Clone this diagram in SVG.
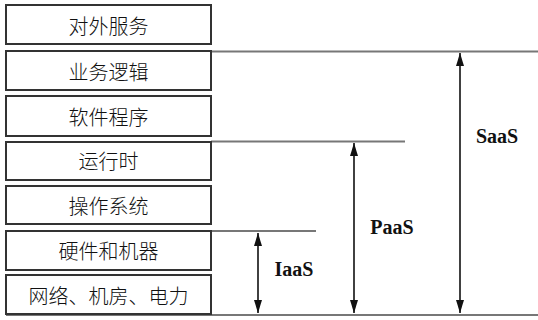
<svg xmlns="http://www.w3.org/2000/svg" width="538" height="320" viewBox="0 0 538 320">
<style>
.box{fill:#fff;stroke:#333;stroke-width:2}
.lbl{font-family:"Noto Sans CJK SC","Noto Sans CJK JP",sans-serif;font-size:20px;font-weight:300;fill:#111;text-anchor:middle;dominant-baseline:central}
.lvl{stroke:#777;stroke-width:2;fill:none}
.arr{stroke:#111;stroke-width:1.6;fill:none;marker-start:url(#ah);marker-end:url(#ah)}
.tag{font-family:"Liberation Serif",serif;font-weight:bold;font-size:20px;fill:#111;text-anchor:middle}
</style>
<defs>
<marker id="ah" viewBox="0 0 10 10" refX="10" refY="5" markerWidth="13" markerHeight="8" markerUnits="userSpaceOnUse" orient="auto-start-reverse" preserveAspectRatio="none"><path d="M0,0L10,5L0,10Z" fill="#111"/></marker>
</defs>
<rect width="538" height="320" fill="#fff"/>
<g id="connectors">
<line class="lvl" x1="211" y1="51.5" x2="538" y2="51.5"/>
<line class="lvl" x1="211" y1="141.5" x2="405" y2="141.5"/>
<line class="lvl" x1="211" y1="231" x2="316" y2="231"/>
<line class="lvl" x1="6" y1="315" x2="538" y2="315"/>
<line class="arr" x1="258" y1="233" x2="258" y2="313"/>
<line class="arr" x1="354" y1="143" x2="354" y2="313"/>
<line class="arr" x1="460" y1="53" x2="460" y2="313"/>
</g>
<g id="n1"><rect class="box" x="6" y="5" width="205" height="39"/><text class="lbl" x="108.5" y="25">对外服务</text></g>
<g id="n2"><rect class="box" x="6" y="51" width="205" height="39"/><text class="lbl" x="108.5" y="71">业务逻辑</text></g>
<g id="n3"><rect class="box" x="6" y="96" width="205" height="40"/><text class="lbl" x="108.5" y="116">软件程序</text></g>
<g id="n4"><rect class="box" x="6" y="142" width="205" height="38"/><text class="lbl" x="108.5" y="160">运行时</text></g>
<g id="n5"><rect class="box" x="6" y="186" width="205" height="38"/><text class="lbl" x="108.5" y="205">操作系统</text></g>
<g id="n6"><rect class="box" x="6" y="231" width="205" height="39"/><text class="lbl" x="108.5" y="250">硬件和机器</text></g>
<g id="n7"><rect class="box" x="6" y="275" width="205" height="39"/><text class="lbl" x="108.5" y="295">网络、机房、电力</text></g>
<g id="labels">
<text class="tag" x="294" y="276">IaaS</text>
<text class="tag" x="392" y="234">PaaS</text>
<text class="tag" x="497" y="143">SaaS</text>
</g>
</svg>
